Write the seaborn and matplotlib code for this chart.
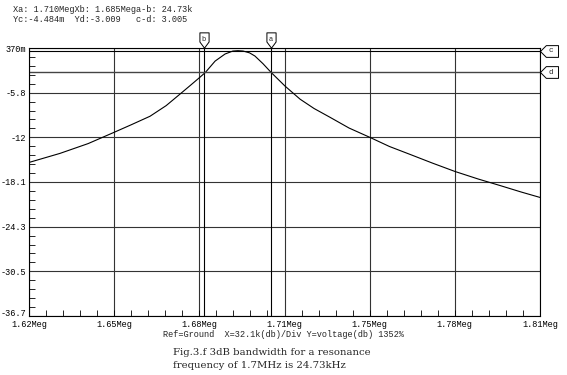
import matplotlib
matplotlib.use("Agg")
import matplotlib.pyplot as plt
import matplotlib.transforms as mtransforms
import seaborn as sns
import numpy as np
import pandas as pd
from matplotlib.path import Path

# ---- data ----
freq_meg = [1.6200, 1.6315, 1.6420, 1.6516, 1.6580, 1.6650, 1.6710, 1.6761, 1.6800,
            1.6836, 1.6856, 1.6892, 1.6929, 1.6958, 1.6977, 1.6996, 1.7020, 1.7040,
            1.7070, 1.7100, 1.7152, 1.7208, 1.7260, 1.7319, 1.7390, 1.7468, 1.7540,
            1.7617, 1.7700, 1.7784, 1.7870, 1.7952, 1.8030, 1.8100]
gain_db = [-15.46, -14.21, -12.85, -11.30, -10.25, -9.07, -7.60, -6.02, -4.80,
           -3.66, -3.00, -1.44, -0.46, -0.05, 0.00, -0.05, -0.30, -0.74,
           -1.80, -3.00, -4.90, -6.71, -8.00, -9.21, -10.70, -12.00, -13.25,
           -14.35, -15.55, -16.71, -17.75, -18.66, -19.55, -20.30]

x_ticks = [1.62, 1.65167, 1.68333, 1.715, 1.74667, 1.77833, 1.81]
x_tick_labels = ["1.62Meg", "1.65Meg", "1.68Meg", "1.71Meg", "1.75Meg", "1.78Meg", "1.81Meg"]
y_top, y_bottom = 0.37, -36.7
y_tick_labels = ["-36.7", "-30.5", "-24.3", "-18.1", "-12", "-5.8", "370m"]

cursor_a, cursor_b = 1.710, 1.685
cursor_c, cursor_d = -0.004484, -3.009

header1 = "Xa: 1.710MegXb: 1.685Mega-b: 24.73k"
header2 = "Yc:-4.484m  Yd:-3.009   c-d: 3.005"
footer = "Ref=Ground  X=32.1k(db)/Div Y=voltage(db) 1352%"
caption = "Fig.3.f 3dB bandwidth for a resonance\nfrequency of 1.7MHz is 24.73kHz"

df = pd.DataFrame({"f": freq_meg, "dB": gain_db})

sns.set_style("white")
plt.rcParams["font.family"] = ["Liberation Mono", "DejaVu Sans Mono"]

fig = plt.figure(figsize=(5.67, 3.75), dpi=100)
ax = fig.add_axes([29/567, 1-316/375, 511/567, 268/375])

sns.lineplot(data=df, x="f", y="dB", ax=ax, color="black", linewidth=0.8)

ax.set_xlim(1.62, 1.81)
ax.set_ylim(y_bottom, y_top)
ax.set_xticks(x_ticks)
ax.set_xticklabels(x_tick_labels)
yt = np.linspace(y_bottom, y_top, 7)
ax.set_yticks(yt)
ax.set_yticklabels(y_tick_labels)
ax.set_xticks(np.linspace(1.62, 1.81, 31), minor=True)
ax.set_yticks(np.linspace(y_bottom, y_top, 31), minor=True)
ax.tick_params(axis="x", which="major", length=0, labelsize=6.2, pad=3, bottom=True,
               colors="black")
ax.tick_params(axis="y", which="major", length=0, labelsize=6.2, pad=2, left=True,
               colors="black")
ax.tick_params(axis="x", which="minor", direction="in", length=4, width=0.6,
               bottom=True, top=False, color="black")
ax.tick_params(axis="y", which="minor", direction="in", length=4, width=0.6,
               left=True, right=False, color="black")
ax.set_xlabel("")
ax.set_ylabel("")

# nudge the bottom y label up slightly so it clears the first x label
lbl0 = ax.get_yticklabels()[0]
lbl0.set_transform(lbl0.get_transform() + mtransforms.ScaledTranslation(0, 3/100, fig.dpi_scale_trans))

for s in ax.spines.values():
    s.set_color("black")
    s.set_linewidth(0.8)

ax.grid(True, which="major", color="#333333", linewidth=0.8)

# cursor lines
ax.axvline(cursor_a, color="black", linewidth=0.8)
ax.axvline(cursor_b, color="black", linewidth=0.8)
ax.axhline(cursor_c, color="black", linewidth=0.8)
ax.axhline(cursor_d, color="#444444", linewidth=1.0)

# tags
down_tag = Path([(-0.6, 1), (0.6, 1), (0.6, -0.2), (0, -1), (-0.6, -0.2), (-0.6, 1)],
                [1, 2, 2, 2, 2, 79])
left_tag = Path([(-1, 0), (-0.35, 0.65), (1, 0.65), (1, -0.65), (-0.35, -0.65), (-1, 0)],
                [1, 2, 2, 2, 2, 79])
xt = ax.get_xaxis_transform()
yt_tr = ax.get_yaxis_transform()
for xv, lab in [(cursor_b, "b"), (cursor_a, "a")]:
    ax.plot([xv, xv], [1.0, 1.03], transform=xt, color="black", lw=0.8, clip_on=False)
    ax.plot([xv], [1.03], transform=xt, marker=down_tag, markersize=11, mfc="white",
            mec="black", mew=0.7, clip_on=False)
    ax.text(xv, 1.033, lab, transform=xt, fontsize=5, ha="center", va="center")
for yv, lab in [(cursor_c, "c"), (cursor_d, "d")]:
    ax.plot([1.0, 1.02], [yv, yv], transform=yt_tr, color="black", lw=0.8, clip_on=False)
    ax.plot([1.018], [yv], transform=yt_tr, marker=left_tag, markersize=13, mfc="white",
            mec="black", mew=0.7, clip_on=False)
    ax.text(1.021, yv, lab, transform=yt_tr, fontsize=5.5, ha="center", va="center")

fig.text(13/567, 1-9/375, header1, fontsize=6.2, va="center", ha="left")
fig.text(13/567, 1-20/375, header2, fontsize=6.2, va="center", ha="left")
fig.text(163/567, 1-334.5/375, footer, fontsize=6.2, va="center", ha="left")
fig.text(173/567, 1-359/375, caption, fontsize=7.3, va="center", ha="left",
         family=["DejaVu Serif"], linespacing=1.5)

fig.savefig("out.png", dpi=100, facecolor="white")
